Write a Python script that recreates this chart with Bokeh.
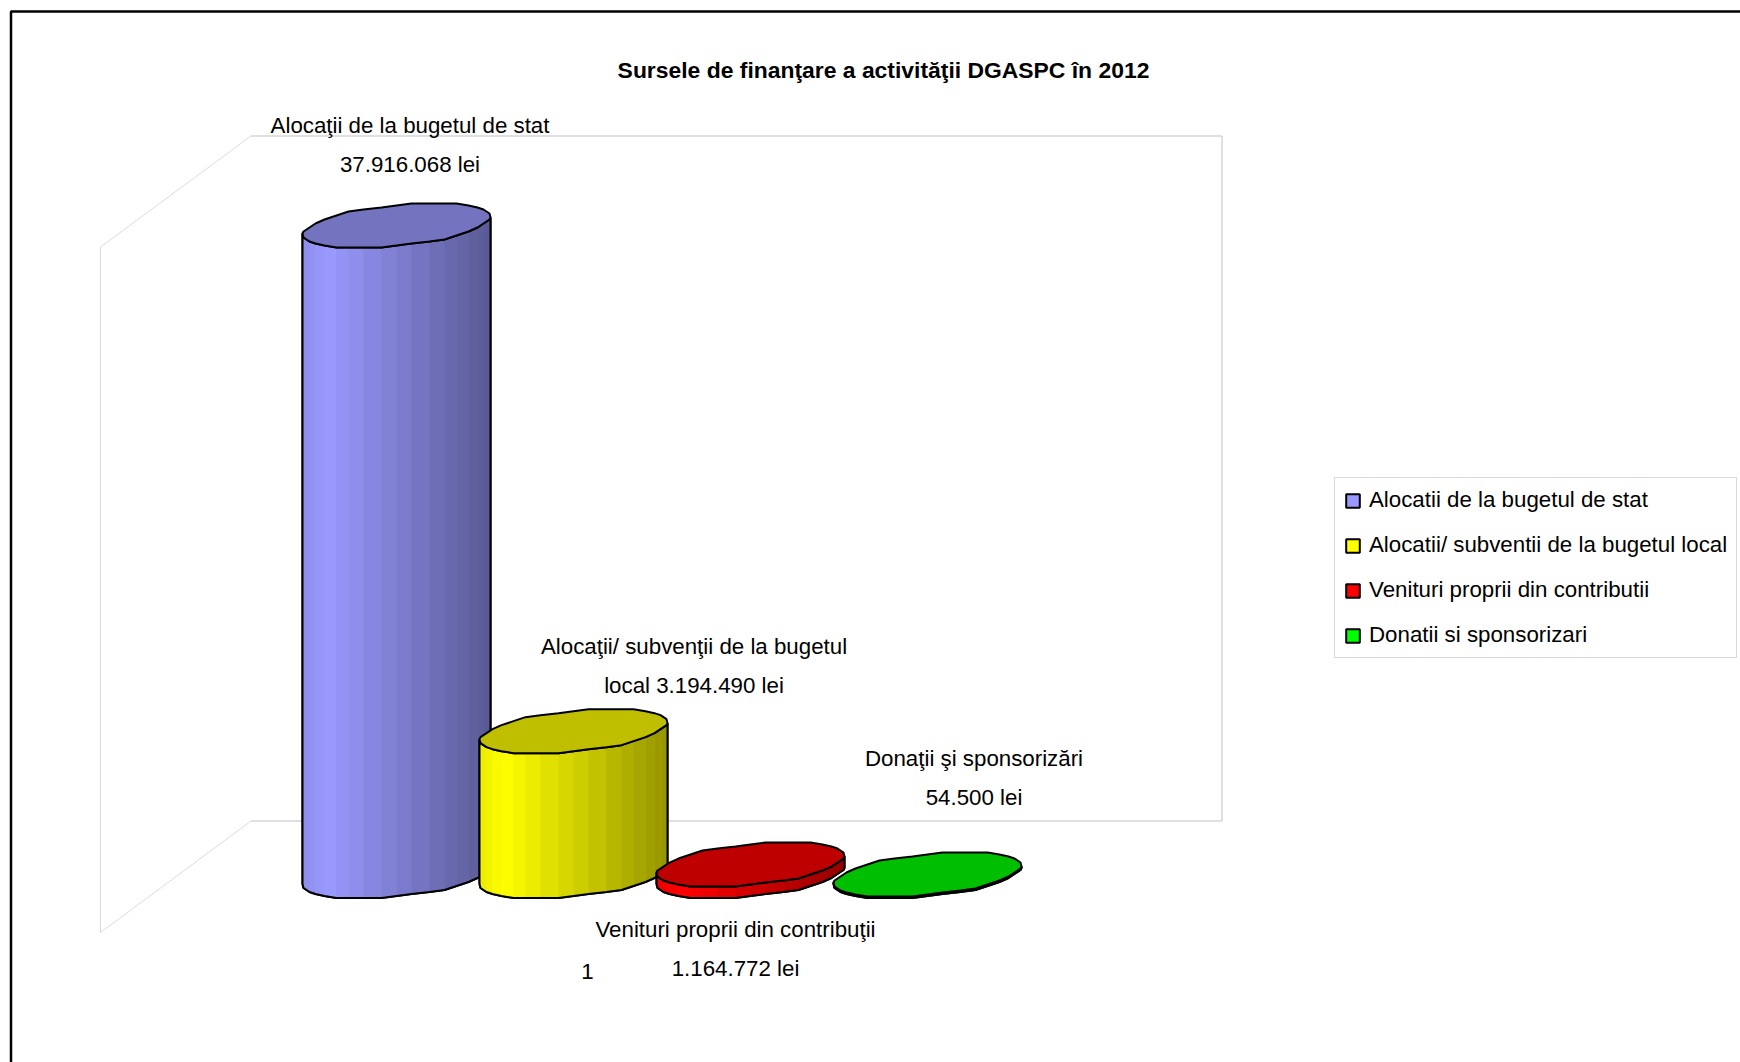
import math
from bokeh.core.properties import value
from bokeh.embed import file_html
from bokeh.models import ColumnDataSource, Legend, LegendItem
from bokeh.plotting import figure
from bokeh.resources import INLINE

# ---- data ----
categories = ["Alocatii de la bugetul de stat", "Alocatii/ subventii de la bugetul local",
              "Venituri proprii din contributii", "Donatii si sponsorizari"]
# drawn column heights (million lei on the chart's own hidden axis)
plotted_heights = [38.13, 8.49, 0.67, 0.09]
base_colors = ["#9999ff", "#ffff00", "#ff0000", "#00ff00"]
label_lines = [["Alocaţii de la bugetul de stat", "37.916.068 lei"],
               ["Alocaţii/ subvenţii de la bugetul", "local 3.194.490 lei"],
               ["Venituri proprii din contribuţii", "1.164.772 lei"],
               ["Donaţii şi sponsorizări", "54.500 lei"]]
title_text = "Sursele de finanţare a activităţii DGASPC în 2012"
category_tick = "1"

# ---- layout ----
W, H = 1740, 1062
PX_PER_CAT, PX_PER_UNIT = 177.0, 17.06
X0_PAGE, Y0_PAGE = 396.0, 875.5
FONT = "Liberation Sans"
LABEL_SIZE = "22.3px"

x_start = -X0_PAGE / PX_PER_CAT
x_end = (W - X0_PAGE) / PX_PER_CAT
y_end = Y0_PAGE / PX_PER_UNIT
y_start = (Y0_PAGE - H) / PX_PER_UNIT


def fx(px):
    return (px - X0_PAGE) / PX_PER_CAT


def fy(py):
    return (Y0_PAGE - py) / PX_PER_UNIT


p = figure(width=W, height=H, x_range=(x_start, x_end), y_range=(y_start, y_end),
           x_axis_type=None, y_axis_type=None, toolbar_location=None,
           output_backend="svg", min_border=0, outline_line_color=None,
           background_fill_color="white", border_fill_color="white")
p.grid.visible = False

# outer chart border
p.line([fx(10.5), fx(10.5), fx(1740)], [fy(1062), fy(11), fy(11)], line_color="black", line_width=2.5)

# walls
p.line([fx(250.5), fx(1221.5), fx(1221.5), fx(250.5)], [fy(135.5), fy(135.5), fy(820.5), fy(820.5)],
       line_color="#c0c0c0", line_width=1)
p.line([fx(250.5), fx(100), fx(100), fx(250.5)], [fy(135.5), fy(246.5), fy(932), fy(820.5)],
       line_color="#dcdcdc", line_width=1)

# cylinder geometry (data units); facets snapped to a fine grid like the original's outline
RX_PX, RY_PX, TILT_PX = 94.0, 20.3, 8.9
NSEG = 36
GRID_X, GRID_Y = 3.0, 2.0


def ell(cx, cy, t):
    dx = RX_PX * math.cos(t)
    dy = RY_PX * math.sin(t) + TILT_PX * math.cos(t)
    if abs(math.cos(t)) < 0.999:
        dx = round(dx / GRID_X) * GRID_X
    dy = round(dy / GRID_Y) * GRID_Y
    return cx + dx / PX_PER_CAT, cy + dy / PX_PER_UNIT


def shade(color, f):
    k = 0.92 + 0.08 * f / 0.13 if f < 0.13 else 1.0 - 0.42 * (f - 0.13) / 0.87
    r, g, b = (int(color[i:i + 2], 16) for i in (1, 3, 5))
    return "#%02x%02x%02x" % (round(r * k), round(g * k), round(b * k))


items = []
RX = RX_PX / PX_PER_CAT
for i, (name, h, col) in enumerate(zip(categories, plotted_heights, base_colors)):
    ts_front = [math.pi + 2 * math.pi * j / NSEG for j in range(NSEG // 2 + 1)]
    ts_all = [2 * math.pi * j / NSEG for j in range(NSEG + 1)]
    bottom = [ell(i, 0, t) for t in ts_front]
    top_front = [ell(i, h, t) for t in ts_front]
    sx = [b[0] for b in bottom] + [t[0] for t in reversed(top_front)]
    sy = [b[1] for b in bottom] + [t[1] for t in reversed(top_front)]
    sil = p.patch(sx, sy, fill_color=col, line_color="black", line_width=2)
    xs, ys, cols = [], [], []
    for j in range(NSEG // 2):
        a, b = bottom[j], bottom[j + 1]
        c, d = top_front[j + 1], top_front[j]
        xs.append([a[0], b[0], c[0], d[0]])
        ys.append([a[1], b[1], c[1], d[1]])
        cols.append(shade(col, ((a[0] + b[0]) / 2 - (i - RX)) / (2 * RX)))
    p.patches(xs, ys, fill_color=cols, line_color=cols, line_width=0.5)
    p.line(sx + [sx[0]], sy + [sy[0]], line_color="black", line_width=2)
    top = [ell(i, h, t) for t in ts_all]
    r, g, b = (int(col[k:k + 2], 16) for k in (1, 3, 5))
    tc = "#%02x%02x%02x" % (round(r * .75), round(g * .75), round(b * .75))
    p.patch([q[0] for q in top], [q[1] for q in top], fill_color=tc, line_color="black", line_width=2)
    items.append(LegendItem(label=name, renderers=[sil]))

# texts
label_pos = [(409.5, 124.5, 163.5), (693.5, 646, 685), (735, 929, 968), (973.5, 758, 797)]
tx, ty, tt = [], [], []
for lines, (cx, y1, y2) in zip(label_lines, label_pos):
    tx += [fx(cx), fx(cx)]
    ty += [fy(y1), fy(y2)]
    tt += lines
tx.append(fx(587))
ty.append(fy(971))
tt.append(category_tick)
p.text(x="x", y="y", text="t", source=ColumnDataSource(dict(x=tx, y=ty, t=tt)),
       text_font=value(FONT), text_font_size=value(LABEL_SIZE), text_align="center",
       text_baseline="middle", text_color="black")
p.text(x=[fx(883)], y=[fy(69)], text=[title_text], text_font=value(FONT),
       text_font_size=value("22.9px"), text_font_style="bold", text_align="center",
       text_baseline="middle", text_color="black")

legend = Legend(items=items, location=(1334, H - 658), orientation="vertical",
                glyph_width=17, glyph_height=17, label_standoff=8, label_height=25,
                spacing=19, padding=9, margin=0, border_line_color="#b4b4b4", border_line_width=1,
                background_fill_color="white", background_fill_alpha=1,
                label_text_font=FONT, label_text_font_size=LABEL_SIZE, label_text_color="black")
p.add_layout(legend, "center")

open("out.html", "w").write(file_html(p, INLINE))
